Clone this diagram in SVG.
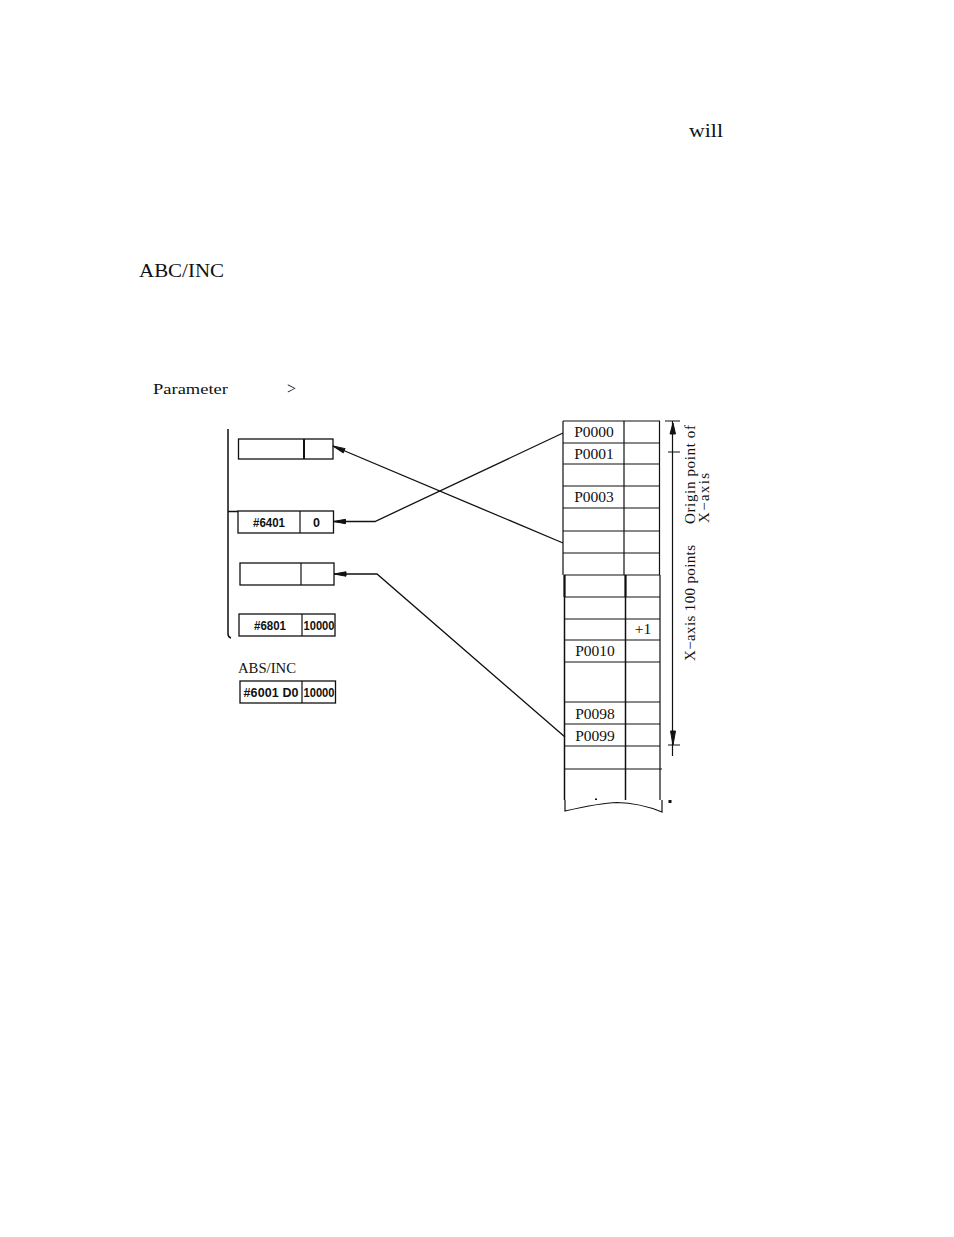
<svg xmlns="http://www.w3.org/2000/svg" width="954" height="1237" viewBox="0 0 954 1237">
<style>
.s{font-family:"Liberation Serif",serif;fill:#111}
.h{font-family:"Liberation Sans",Arial,sans-serif;font-size:12.500px;font-weight:bold;fill:#111;text-anchor:middle}
.b{fill:#fff;stroke:#111;stroke-width:1.3}
.l{fill:none;stroke:#111;stroke-width:1.2}
.r{font-size:15.500px;text-anchor:middle}
</style>
<defs><marker id="a" markerUnits="userSpaceOnUse" markerWidth="16" markerHeight="8" refX="15" refY="4" orient="auto"><path d="M15 4L3 1.800L3 6.200Z" fill="#111" stroke="#111" stroke-width="1"/></marker></defs>
<rect width="954" height="1237" fill="#fff"/>
<text class="s" x="689" y="137" font-size="19" textLength="34" lengthAdjust="spacingAndGlyphs">will</text>
<text class="s" x="139" y="277" font-size="18" textLength="85" lengthAdjust="spacingAndGlyphs">ABC/INC</text>
<text class="s" x="153" y="394" font-size="15" textLength="75" lengthAdjust="spacingAndGlyphs">Parameter</text>
<text class="s" x="287" y="394" font-size="16">&gt;</text>
<g id="bracket"><path class="l" style="stroke-width:1.5" d="M228 429V634Q228 637 231 638M228 511.500H238"/></g>
<g id="param-1"><rect class="b" x="238.500" y="439" width="94.500" height="20"/><path class="l" style="stroke-width:2" d="M304 439V459"/></g>
<g id="param-2"><rect class="b" x="238" y="511" width="95.500" height="22"/><path class="l" d="M300 511V533"/><text class="h" x="269" y="527" textLength="32" lengthAdjust="spacingAndGlyphs">#6401</text><text class="h" x="316.500" y="527">0</text></g>
<g id="param-3"><rect class="b" x="240" y="563" width="94" height="22"/><path class="l" d="M301 563V585"/></g>
<g id="param-4"><rect class="b" x="239" y="614" width="96" height="22"/><path class="l" d="M302 614V636"/><text class="h" x="270" y="630" textLength="32" lengthAdjust="spacingAndGlyphs">#6801</text><text class="h" x="319" y="630" textLength="31" lengthAdjust="spacingAndGlyphs">10000</text></g>
<g id="abs-inc"><text class="s" x="238" y="673" font-size="14.500" textLength="58" lengthAdjust="spacingAndGlyphs">ABS/INC</text><rect class="b" x="240" y="681" width="95.500" height="22"/><path class="l" d="M302 681V703"/><text class="h" x="271" y="697" textLength="55" lengthAdjust="spacing">#6001 D0</text><text class="h" x="319" y="697" textLength="31" lengthAdjust="spacingAndGlyphs">10000</text></g>
<g id="table">
<path class="l" d="M563 421H660M563 443H660M563 464H660M563 486H660M563 508H660M563 531H660M563 553H660M564 575H660M564 597H660M564 619H660M564 640H660M564 662H660M564 702H660M564 724H660M564 746H660M564 769H662"/>
<path class="l" d="M563 421V575M624 421V575M659.500 421V575M660 575V597M660 597V800"/>
<path class="l" style="stroke-width:1.500" d="M564.500 575V800M625.500 575V800"/>
<path class="l" d="M565 800V811Q600 803 617 802.500Q640 803 662 812V800"/>
<path d="M625.500 575V597M564.500 575V597" stroke="#111" stroke-width="2" fill="none"/>
<rect x="595" y="798.500" width="2" height="1.500" fill="#111"/>
<rect x="668.500" y="800" width="3" height="3" fill="#111"/>
<g class="s r"><text x="594" y="437">P0000</text><text x="594" y="459">P0001</text><text x="594" y="502">P0003</text><text x="595" y="656">P0010</text><text x="595" y="719">P0098</text><text x="595" y="741">P0099</text><text x="643" y="634">+1</text></g>
</g>
<g id="axis">
<path class="l" d="M665 421H680M668 452H680M668 745H680M672.500 421V756"/>
<path d="M673 423L670 434H675.500Z" fill="#111" stroke="#111"/>
<path d="M673 745L670.500 731H675.500Z" fill="#111" stroke="#111"/>
<text class="s" font-size="15" transform="translate(695 524) rotate(-90)" textLength="99" lengthAdjust="spacing">Origin point of</text>
<text class="s" font-size="15" transform="translate(709 523) rotate(-90)" textLength="50" lengthAdjust="spacing">X−axis</text>
<text class="s" font-size="15" transform="translate(695 661) rotate(-90)" textLength="116" lengthAdjust="spacing">X−axis 100 points</text>
</g>
<g id="connectors">
<path class="l" style="stroke-width:1.300" marker-end="url(#a)" d="M563 433L375 521.500H333.500"/>
<path class="l" style="stroke-width:1.300" marker-end="url(#a)" d="M563 543L333 446"/>
<path class="l" style="stroke-width:1.300" marker-end="url(#a)" d="M565 737L377 574H334"/>
</g>
</svg>
